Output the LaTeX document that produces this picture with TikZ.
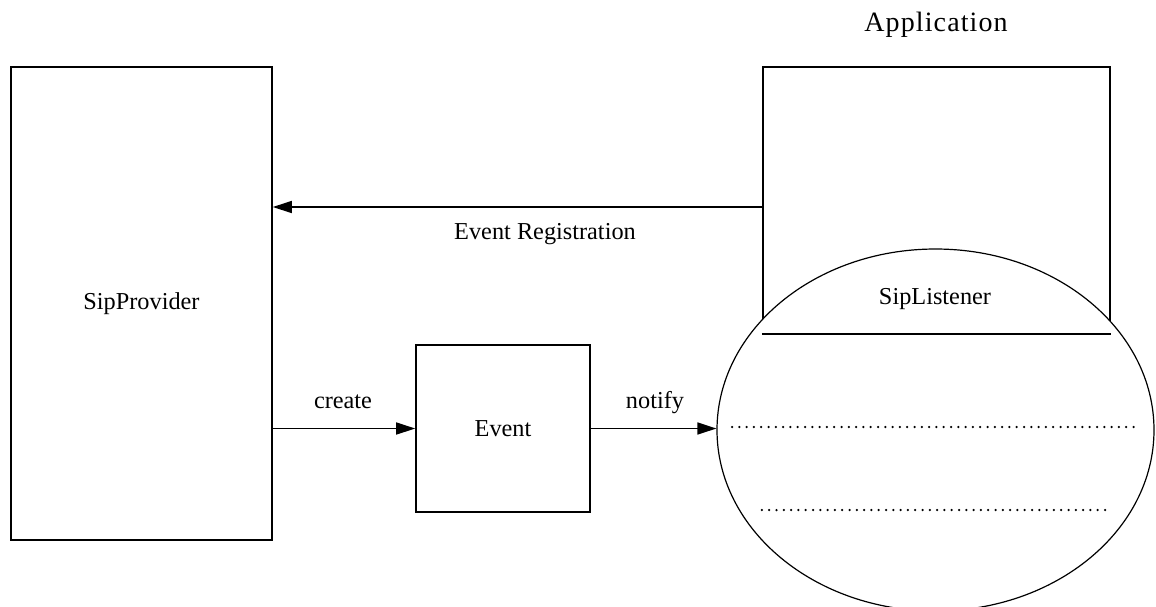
\documentclass[tikz,border=0pt]{standalone}
\usepackage{fontspec}
\setmainfont{Liberation Serif}
\usetikzlibrary{arrows.meta,shapes.geometric}
\begin{document}
\begin{tikzpicture}[x=0.5pt,y=-0.5pt,
  every node/.style={font=\fontsize{12.15}{14}\selectfont},
  box/.style={draw, line width=0.8pt, inner sep=0pt},
  conn/.style={line width=0.75pt, -{Triangle[length=9.5pt,width=6pt]}},
  dotline/.style={line width=1.25pt, line cap=round, dash pattern=on 0pt off 3.65pt},
  lbl/.style={inner sep=0pt, anchor=base}]
\useasboundingbox (0,0) rectangle (1156,606);

% provider and event boxes
\node[box, minimum width=130.5pt, minimum height=236.5pt] (prov) at (141.5,303.5) {SipProvider};
\node[box, minimum width=87pt, minimum height=83.5pt] (event) at (503,428.5) {Event};

% application frame with its listener
\node[lbl, font=\fontsize{14}{16}\selectfont] (applbl) at (936,31) {\addfontfeature{LetterSpace=4}Application};
\node[box, minimum width=173.5pt, minimum height=133pt] (app) at (936.2,200) {};
\node[draw, ellipse, fill=white, line width=0.6pt, inner sep=0pt,
      minimum width=218.5pt, minimum height=181pt] (lis) at (935.5,430) {};
\draw[line width=0.8pt] (app.south west) -- (app.south east);
\node[lbl] (lislbl) at (935,304) {SipListener};
\draw[dotline] (732,427) -- (1139,427);
\draw[dotline] (app.south west |- 0,510) -- (app.south east |- 0,510);

% connectors
\draw[conn] (app.west |- 0,207) -- (prov.east |- 0,207);
\node[lbl] (reglbl) at (545,239) {Event Registration};
\draw[conn] (prov.east |- event.west) -- (event.west);
\node[lbl] (createlbl) at (343,408) {create};
\draw[conn] (event.east) -- (event.east -| lis.west);
\node[lbl] (notifylbl) at (655,408) {notify};
\end{tikzpicture}
\end{document}
